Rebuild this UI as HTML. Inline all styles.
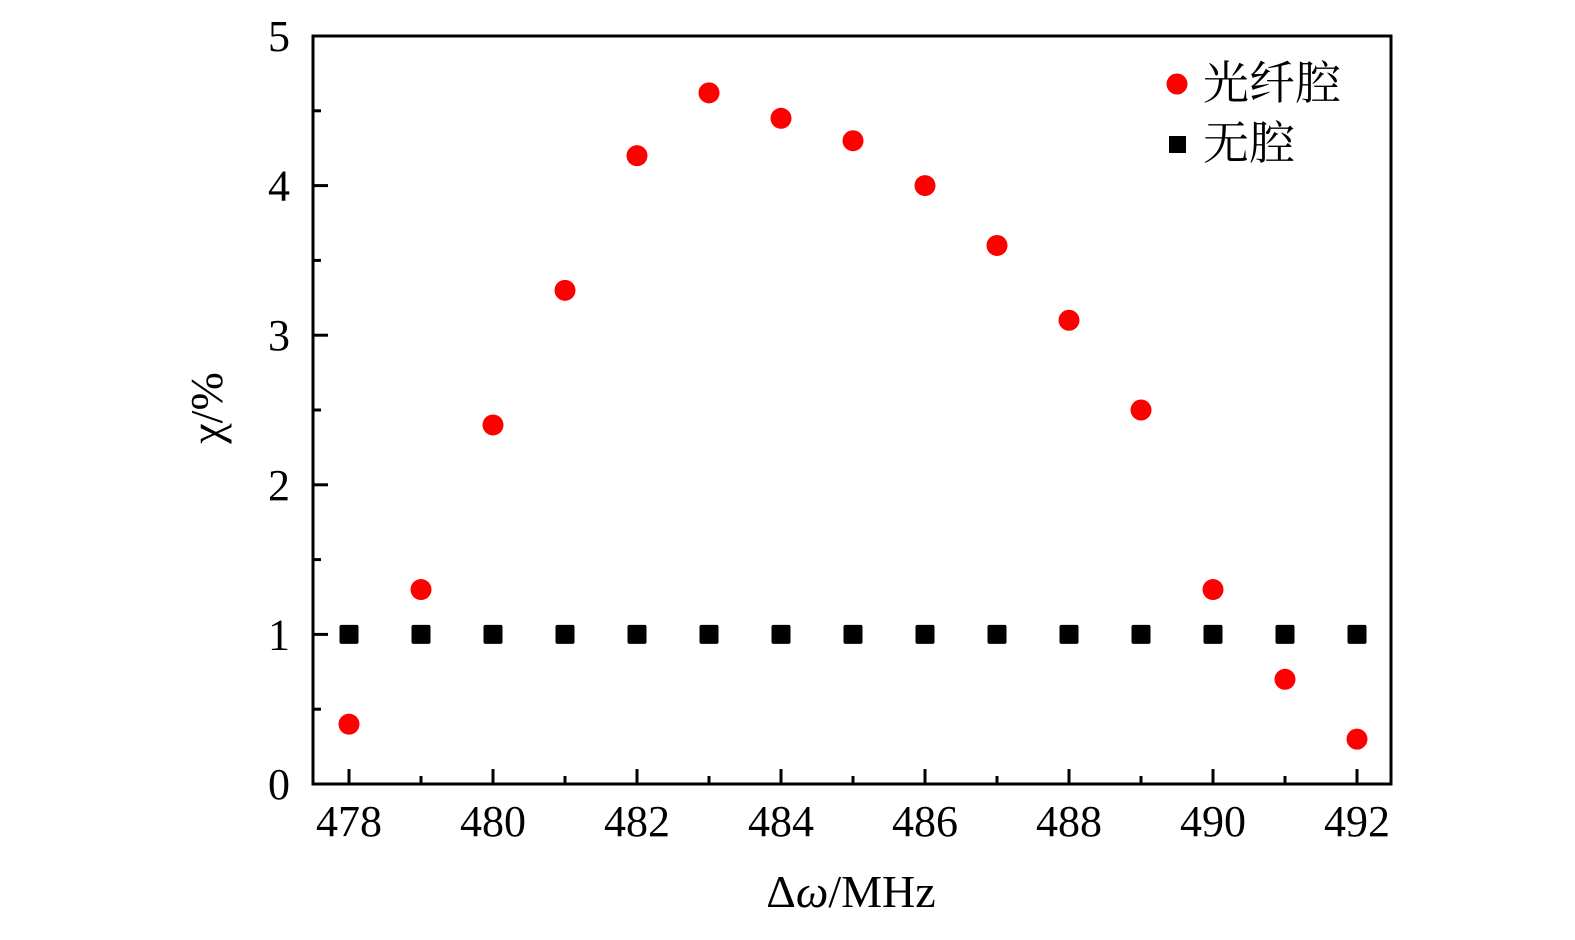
<!DOCTYPE html>
<html><head><meta charset="utf-8"><style>
body{margin:0;background:#fff}
svg text{font-family:"Liberation Serif","Noto Serif CJK SC",serif;fill:#000}
</style></head><body>
<svg id="chart" width="1575" height="935" xmlns="http://www.w3.org/2000/svg">
<g id="axes"></g><g id="marks"></g>
<g>
<circle cx="1177" cy="84" r="10.5" fill="#f00"/>
<text x="1203" y="99" font-size="46" style="font-family:'Noto Serif CJK SC',serif">光纤腔</text>
<rect x="1169" y="136" width="17" height="17" fill="#000"/>
<text x="1203" y="159" font-size="46" style="font-family:'Noto Serif CJK SC',serif">无腔</text>
</g>
<text x="851" y="907" font-size="46" text-anchor="middle">Δ<tspan font-style="italic">ω</tspan>/MHz</text>
<text transform="translate(222,408) rotate(-90)" font-size="46" text-anchor="middle">χ/%</text>
</svg>
<script>
const xCats=[478,479,480,481,482,483,484,485,486,487,488,489,490,491,492];
const fiberCavity=[0.4,1.3,2.4,3.3,4.2,4.62,4.45,4.3,4.0,3.6,3.1,2.5,1.3,0.7,0.3];
const noCavity=[1,1,1,1,1,1,1,1,1,1,1,1,1,1,1];
const xTickLabels=[478,480,482,484,486,488,490,492];
const yTickLabels=[0,1,2,3,4,5];
const L=313,R=1391,T=36,B=784;
const X=v=>349+(v-478)*72;
const Y=v=>784-v*149.6;
const NS="http://www.w3.org/2000/svg";
const axes=document.getElementById('axes'),marks=document.getElementById('marks');
function mk(t,a,p){const e=document.createElementNS(NS,t);for(const k in a)e.setAttribute(k,a[k]);p.appendChild(e);return e;}
const frame=mk('rect',{x:L,y:T,width:R-L,height:B-T,fill:'none',stroke:'#000','stroke-width':3},axes);


for(let v=478;v<=492;v++){const maj=(v%2===0);
const t=mk('line',{x1:X(v),x2:X(v),y1:B,y2:B-(maj?15:8),stroke:'#000','stroke-width':3},axes);

}
xTickLabels.forEach(v=>{const t=mk('text',{x:X(v),y:836,'font-size':44,'text-anchor':'middle'},axes);t.textContent=v;

});
for(let i=0;i<=10;i++){const v=i/2,maj=i%2===0;
const t=mk('line',{x1:L,x2:L+(maj?15:8),y1:Y(v),y2:Y(v),stroke:'#000','stroke-width':3},axes);

}
yTickLabels.forEach(v=>{const t=mk('text',{x:290,y:Y(v)+15,'font-size':44,'text-anchor':'end'},axes);t.textContent=v;

});
noCavity.forEach((v,i)=>{const r=mk('rect',{x:X(xCats[i])-9.5,y:Y(v)-9.5,width:19,height:19,rx:2,fill:'#000'},marks);

});
fiberCavity.forEach((v,i)=>{const c=mk('circle',{cx:X(xCats[i]),cy:Y(v),r:10.5,fill:'#f00'},marks);

});
</script>
</body></html>
